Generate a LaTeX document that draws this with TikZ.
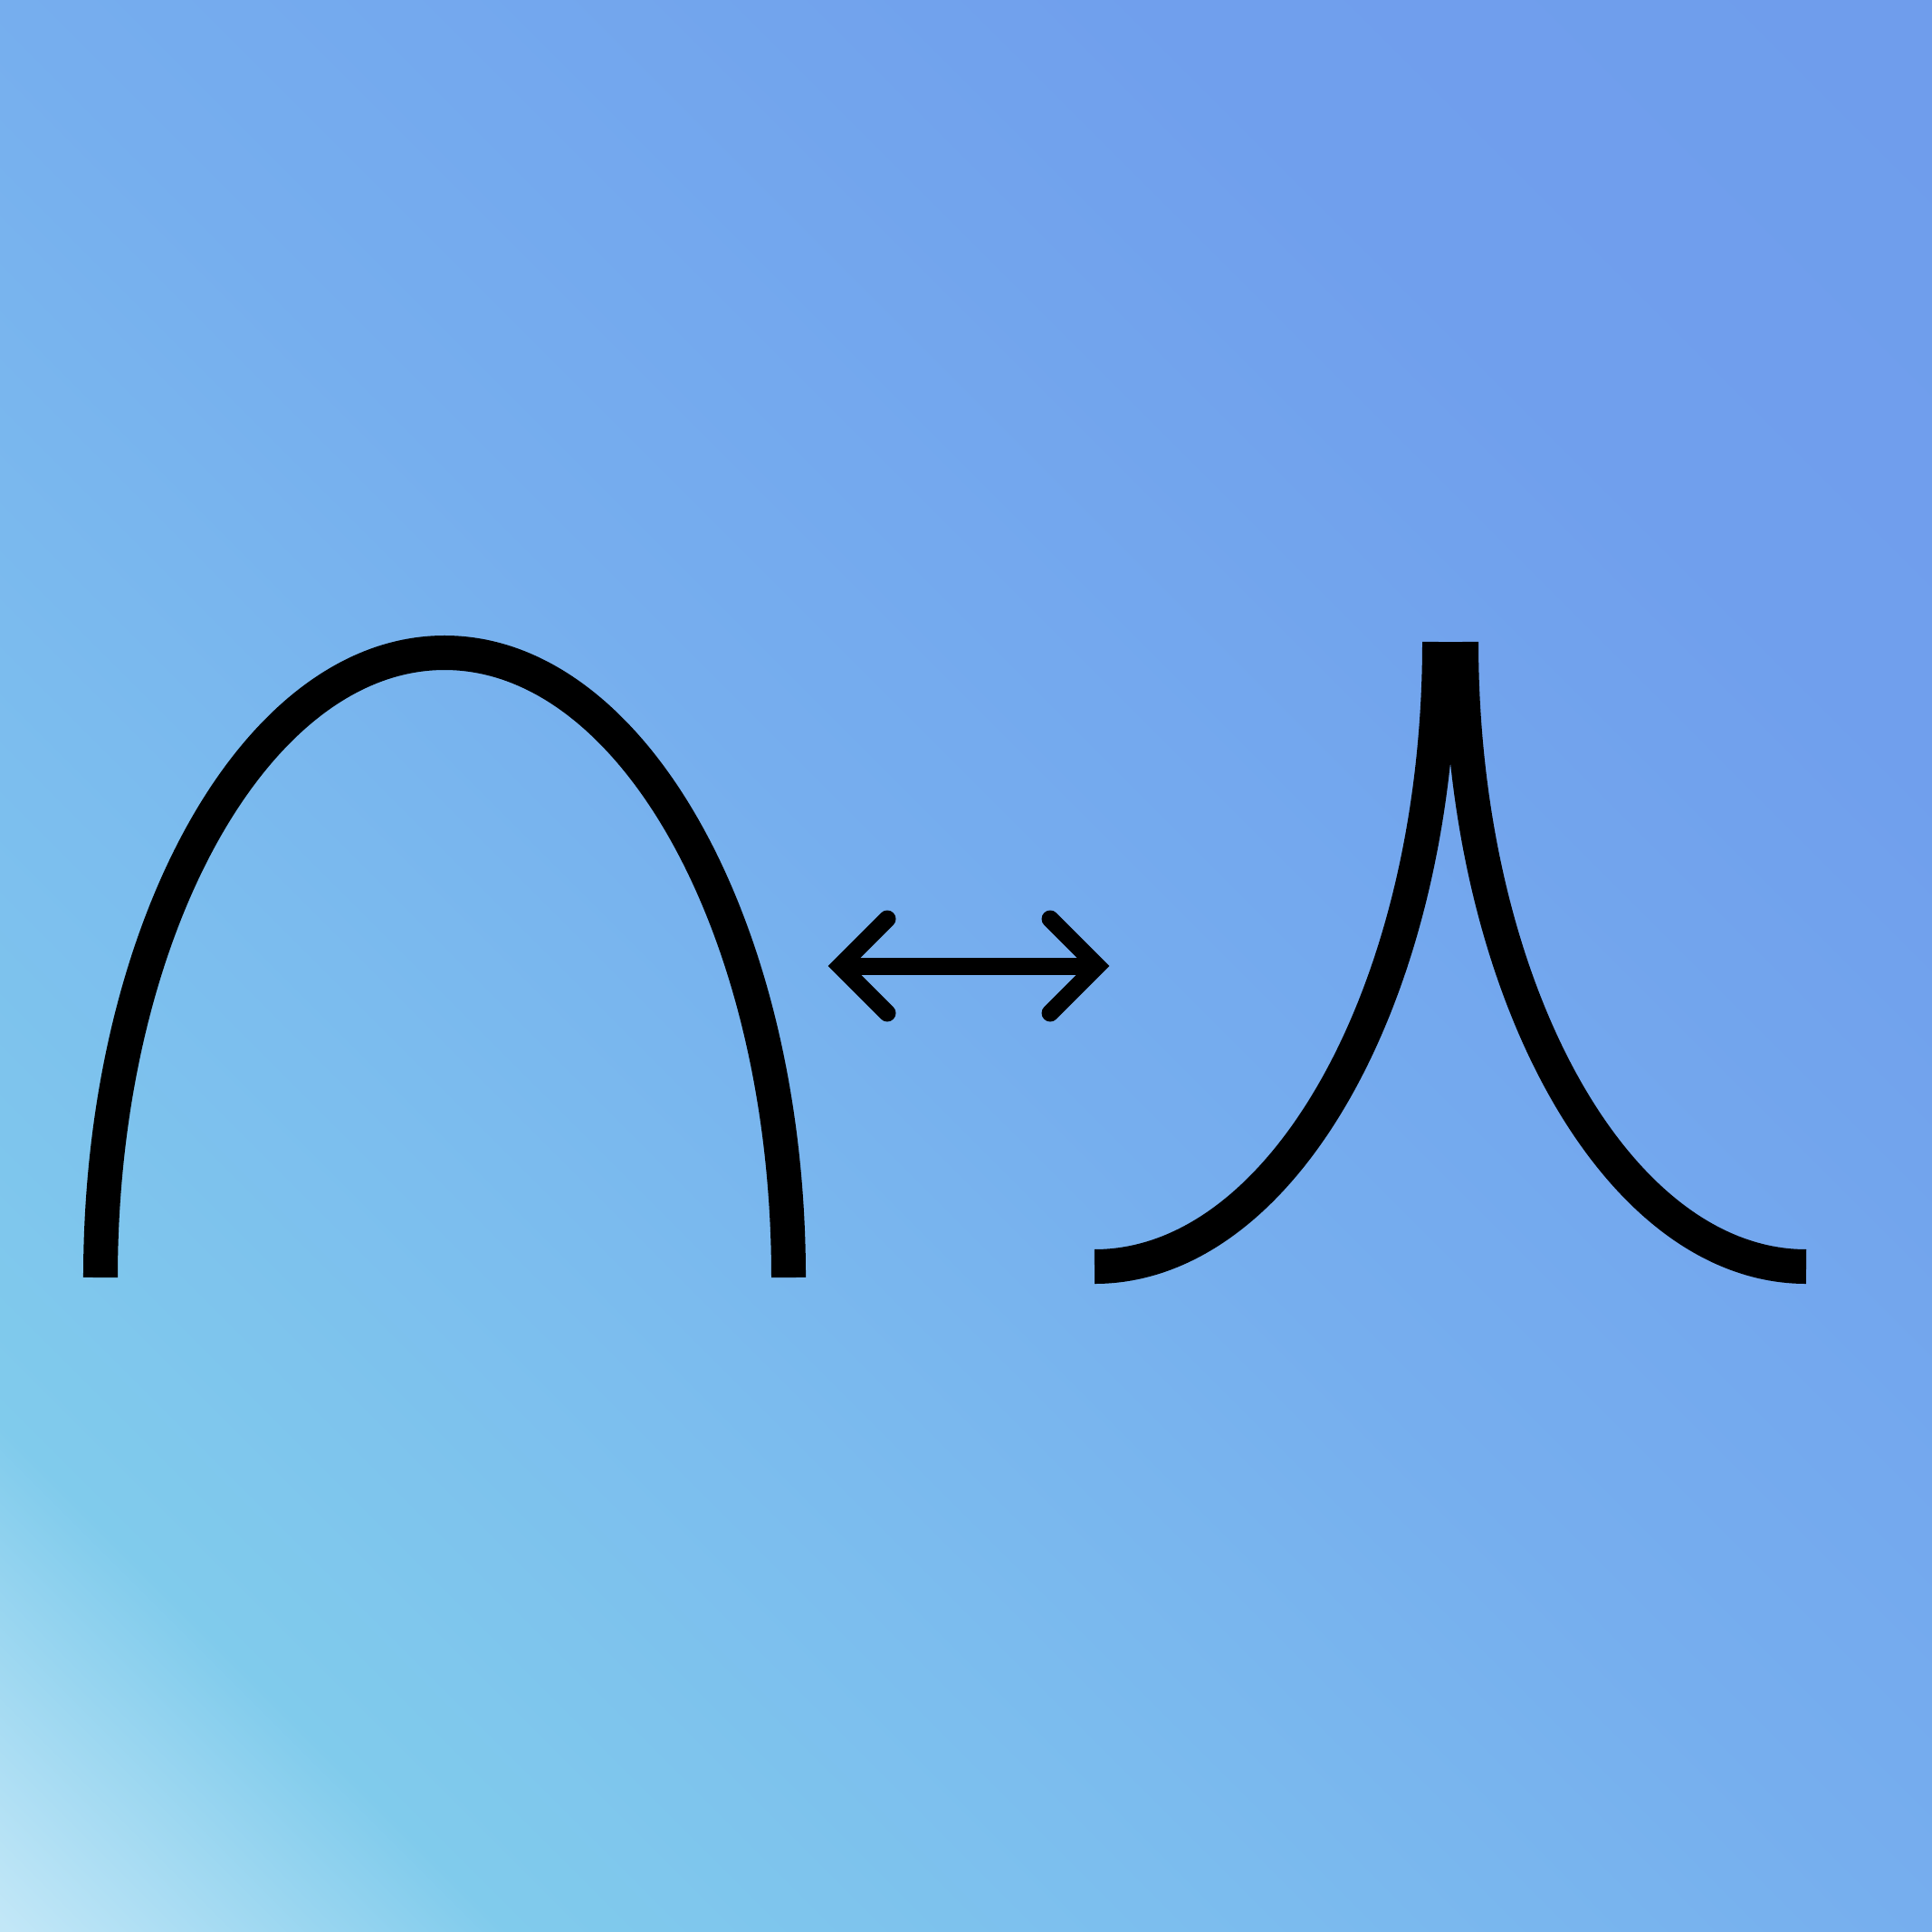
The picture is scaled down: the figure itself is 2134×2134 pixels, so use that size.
\documentclass[tikz,border=0pt]{standalone}
\definecolor{bgA}{RGB}{194,231,247}
\definecolor{bgB}{RGB}{128,203,236}
\definecolor{bgC}{RGB}{124,190,238}
\definecolor{bgD}{RGB}{118,174,238}
\definecolor{bgE}{RGB}{112,159,237}
\definecolor{bgF}{RGB}{111,157,236}
\pgfdeclareverticalshading{bgshade}{100bp}{color(0bp)=(bgA); color(14.64bp)=(bgA); color(23.8bp)=(bgB); color(35.9bp)=(bgC); color(50bp)=(bgD); color(71.2bp)=(bgE); color(85.36bp)=(bgF); color(100bp)=(bgF)}
\tikzset{
  curve/.style={draw=black, line width=0.38cm, line cap=butt},
  arrowline/.style={draw=black, line width=0.19cm, line cap=round, line join=miter},
}
\begin{document}
\begin{tikzpicture}[x=0.01cm, y=-0.01cm]
\useasboundingbox (0,0) rectangle (2134,2134);
\shade[shading=bgshade, shading angle=-45] (0,0) rectangle (2134,2134);
% left arch (half ellipse)
\coordinate (archL) at (111,1411);
\path[curve] (archL) arc[start angle=180, end angle=360, x radius=380, y radius=690];
% right cusp (two quarter ellipses)
\coordinate (cuspL) at (1209,1399);
\coordinate (cuspTop) at (1614,709);
\path[curve] (cuspL) arc[start angle=90, end angle=0, x radius=381, y radius=690];
\path[curve] (cuspTop) arc[start angle=180, end angle=90, x radius=381, y radius=690];
% double arrow
\coordinate (tipL) at (928,1067);
\coordinate (tipR) at (1212,1067);
\path[arrowline, line cap=butt] (tipL) -- (tipR);
\path[arrowline] (980,1015) -- (tipL) -- (980,1119);
\path[arrowline] (1160,1015) -- (tipR) -- (1160,1119);
\end{tikzpicture}
\end{document}
